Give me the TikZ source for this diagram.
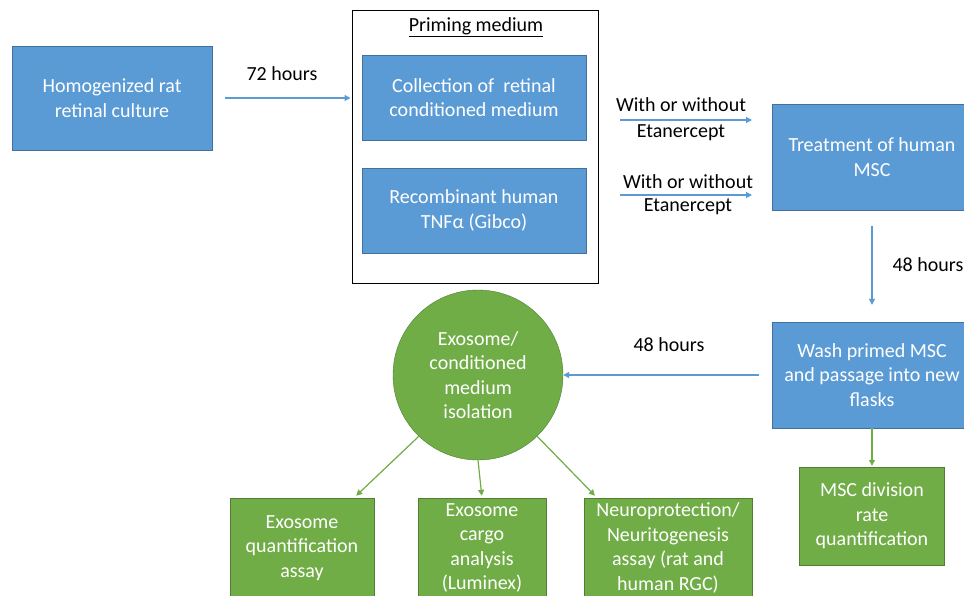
\documentclass[tikz,border=0pt]{standalone}
\usepackage{fontspec}
\setmainfont{Carlito}
\usetikzlibrary{arrows.meta}
\definecolor{boxblue}{HTML}{5B9BD5}
\definecolor{edgeblue}{HTML}{41719C}
\definecolor{boxgreen}{HTML}{70AD47}
\definecolor{edgegreen}{HTML}{507E32}
\begin{document}
\begin{tikzpicture}[x=1pt, y=-1pt, font=\fontsize{20}{24.5}\selectfont,
  bluebox/.style={rectangle, fill=boxblue, draw=edgeblue, text=white, align=center, inner sep=2pt},
  greenbox/.style={rectangle, fill=boxgreen, draw=edgegreen, text=white, align=center, inner sep=2pt},
  bluearrow/.style={-{Triangle[length=6pt,width=6pt]}, draw=boxblue, line width=1.2pt},
  greenarrow/.style={-{Triangle[length=6pt,width=6pt]}, draw=boxgreen, line width=1.2pt}]
\clip (0,0) rectangle (964,595);
\fill[white] (0,0) rectangle (964,595);
% top row
\node[bluebox, minimum width=200, minimum height=104] (Hom) at (112,98) {Homogenized rat\\retinal culture};
\node[draw, line width=1pt, minimum width=246, minimum height=273] (Prime) at (475,146.5) {};
\node (Title) at (476,27) {\underline{Priming medium}};
\node[bluebox, minimum width=224, minimum height=85] (Coll) at (474,97.5) {Collection of\ \ retinal\\conditioned medium};
\node[bluebox, minimum width=224, minimum height=85] (Rec) at (474,210.5) {Recombinant human\\TNFα (Gibco)};
\node[bluebox, minimum width=200, minimum height=106] (Treat) at (872,157) {Treatment of human\\MSC};
\node[bluebox, minimum width=200, minimum height=106] (Wash) at (872,375) {Wash primed MSC\\and passage into new\\flasks};
% bottom row
\node[circle, fill=boxgreen, draw=edgegreen, text=white, align=center, minimum size=170, inner sep=0pt] (Iso) at (478,375) {Exosome/\\conditioned\\medium\\isolation};
\node[greenbox, minimum width=144, minimum height=100] (Quant) at (302,548) {Exosome\\quantification\\assay};
\node[greenbox, minimum width=128, minimum height=100] (Cargo) at (482,548) {Exosome\\cargo\\analysis\\(Luminex)};
\node[greenbox, minimum width=168, minimum height=100] (Neuro) at (668,548) {Neuroprotection/\\Neuritogenesis\\assay (rat and\\human RGC)};
\node[greenbox, minimum width=145, minimum height=98] (Div) at (872,516) {MSC division\\rate\\quantification};
% labels
\node (L72) at (282,74) {72 hours};
\node (W1a) at (681,105) {With or without};
\node (W1b) at (681,133) {Etanercept};
\node (W2a) at (688,182) {With or without};
\node (W2b) at (688,207) {Etanercept};
\node (L48a) at (928,265) {48 hours};
\node (L48b) at (669,345) {48 hours};
\coordinate (E1s) at (620,120);
\coordinate (E1e) at (752,120);
\coordinate (E2s) at (620,195);
\coordinate (E2e) at (752,195);
% arrows
\draw[bluearrow, shorten <=13pt, shorten >=1pt] (Hom.east) -- (Hom.east -| Prime.west);
\draw[bluearrow] (E1s) -- (E1e);
\draw[bluearrow] (E2s) -- (E2e);
\draw[bluearrow, shorten <=16pt, shorten >=17pt] (Treat.south) -- (Wash.north);
\draw[bluearrow, shorten <=13pt] (Wash.west) -- (Iso.east);
\draw[greenarrow, shorten >=1pt] (Wash.south) -- (Div.north);
\draw[greenarrow, shorten >=3pt] (Iso.226) -- ([xshift=52pt]Quant.north);
\draw[greenarrow, shorten >=2pt] (Iso.south) -- (Cargo.north);
\draw[greenarrow, shorten >=3pt] (Iso.314) -- ([xshift=-71pt]Neuro.north);
\end{tikzpicture}
\end{document}
